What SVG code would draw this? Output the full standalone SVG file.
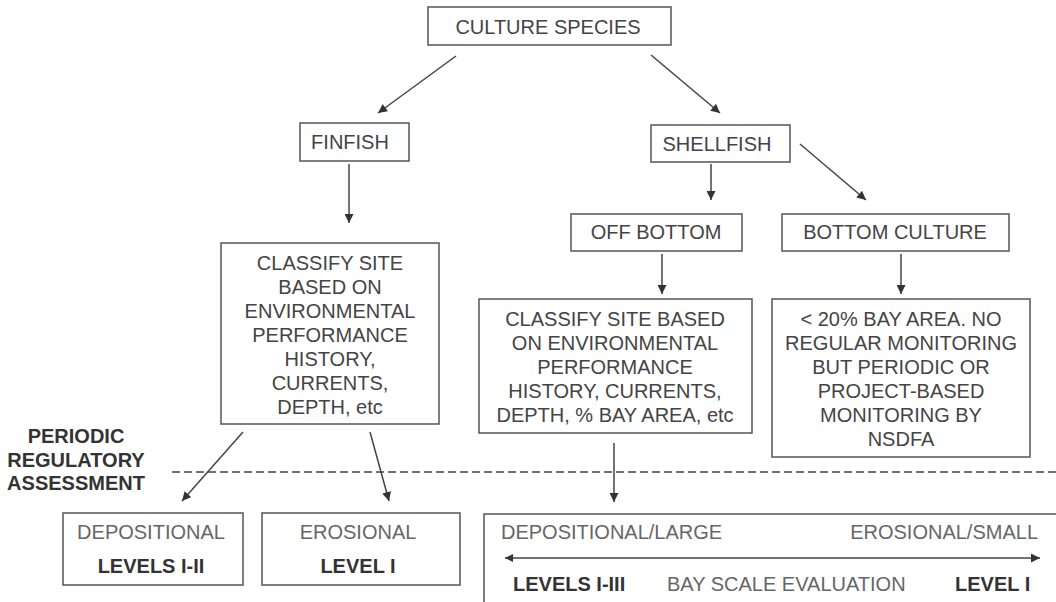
<svg xmlns="http://www.w3.org/2000/svg" width="1056" height="602" viewBox="0 0 1056 602">
<style>
.box{fill:#fff;stroke:#555;stroke-width:1.5}
.t{font-family:"Liberation Sans",Arial,sans-serif;font-size:20px;fill:#444;text-anchor:middle}
.lt{font-family:"Liberation Sans",Arial,sans-serif;font-size:20px;fill:#666}
.b{font-family:"Liberation Sans",Arial,sans-serif;font-size:20px;font-weight:bold;fill:#333}
.c{stroke:#444;stroke-width:1.5;fill:none}
</style>
<defs>
<marker id="ah" viewBox="0 0 10 10" refX="10" refY="5" markerWidth="10" markerHeight="9" markerUnits="userSpaceOnUse" orient="auto">
<path d="M0,0 L10,5 L0,10 z" fill="#333"/>
</marker>
<marker id="ahs" viewBox="0 0 10 10" refX="0" refY="5" markerWidth="10" markerHeight="8" markerUnits="userSpaceOnUse" orient="auto">
<path d="M10,0 L0,5 L10,10 z" fill="#333"/>
</marker>
</defs>
<rect width="1056" height="602" fill="#fff"/>

<g id="connectors">
<line class="c" x1="456" y1="56" x2="378" y2="113" marker-end="url(#ah)"/>
<line class="c" x1="651" y1="55" x2="720" y2="113" marker-end="url(#ah)"/>
<line class="c" x1="349" y1="164" x2="349" y2="223" marker-end="url(#ah)"/>
<line class="c" x1="711" y1="164" x2="711" y2="200" marker-end="url(#ah)"/>
<line class="c" x1="800" y1="144" x2="866" y2="200" marker-end="url(#ah)"/>
<line class="c" x1="662" y1="254" x2="662" y2="294" marker-end="url(#ah)"/>
<line class="c" x1="901" y1="254" x2="901" y2="294" marker-end="url(#ah)"/>
<line class="c" x1="243" y1="432" x2="182" y2="501" marker-end="url(#ah)"/>
<line class="c" x1="370" y1="432" x2="389" y2="501" marker-end="url(#ah)"/>
<line class="c" x1="614" y1="443" x2="614" y2="502" marker-end="url(#ah)"/>
</g>

<g id="divider">
<line x1="172" y1="472" x2="1056" y2="472" stroke="#444" stroke-width="1.5" stroke-dasharray="8,4"/>
<text class="b" x="76" y="443" text-anchor="middle">PERIODIC</text>
<text class="b" x="76" y="467" text-anchor="middle">REGULATORY</text>
<text class="b" x="76" y="490" text-anchor="middle">ASSESSMENT</text>
</g>

<g id="culture-species">
<rect class="box" x="428" y="7" width="243" height="38"/>
<text class="t" x="548" y="34">CULTURE SPECIES</text>
</g>

<g id="finfish">
<rect class="box" x="300" y="123" width="109" height="38"/>
<text class="t" x="350" y="149">FINFISH</text>
</g>

<g id="shellfish">
<rect class="box" x="651" y="125" width="139" height="37"/>
<text class="t" x="717" y="151">SHELLFISH</text>
</g>

<g id="off-bottom">
<rect class="box" x="571" y="214" width="171" height="37"/>
<text class="t" x="656" y="239">OFF BOTTOM</text>
</g>

<g id="bottom-culture">
<rect class="box" x="782" y="214" width="227" height="37"/>
<text class="t" x="895" y="239">BOTTOM CULTURE</text>
</g>

<g id="finfish-classify">
<rect class="box" x="221" y="243" width="218" height="181"/>
<text class="t" x="330" y="270">CLASSIFY SITE</text>
<text class="t" x="330" y="294">BASED ON</text>
<text class="t" x="330" y="318">ENVIRONMENTAL</text>
<text class="t" x="330" y="342">PERFORMANCE</text>
<text class="t" x="330" y="366">HISTORY,</text>
<text class="t" x="330" y="390">CURRENTS,</text>
<text class="t" x="330" y="414">DEPTH, etc</text>
</g>

<g id="offbottom-classify">
<rect class="box" x="479" y="299" width="273" height="134"/>
<text class="t" x="615" y="326">CLASSIFY SITE BASED</text>
<text class="t" x="615" y="350">ON ENVIRONMENTAL</text>
<text class="t" x="615" y="374">PERFORMANCE</text>
<text class="t" x="615" y="398">HISTORY, CURRENTS,</text>
<text class="t" x="615" y="422">DEPTH, % BAY AREA, etc</text>
</g>

<g id="bottom-culture-note">
<rect class="box" x="772" y="299" width="258" height="158"/>
<text class="t" x="901" y="326">&lt; 20% BAY AREA. NO</text>
<text class="t" x="901" y="350">REGULAR MONITORING</text>
<text class="t" x="901" y="374">BUT PERIODIC OR</text>
<text class="t" x="901" y="398">PROJECT-BASED</text>
<text class="t" x="901" y="422">MONITORING BY</text>
<text class="t" x="901" y="446">NSDFA</text>
</g>

<g id="depositional">
<rect class="box" x="63" y="513" width="180" height="72"/>
<text class="lt" x="151" y="539" text-anchor="middle">DEPOSITIONAL</text>
<text class="b" x="151" y="573" text-anchor="middle">LEVELS I-II</text>
</g>

<g id="erosional">
<rect class="box" x="262" y="513" width="198" height="72"/>
<text class="lt" x="358" y="539" text-anchor="middle">EROSIONAL</text>
<text class="b" x="358" y="573" text-anchor="middle">LEVEL I</text>
</g>

<g id="bay-scale">
<rect class="box" x="484" y="514" width="600" height="120"/>
<text class="lt" x="501" y="539">DEPOSITIONAL/LARGE</text>
<text class="lt" x="1038" y="539" text-anchor="end">EROSIONAL/SMALL</text>
<line class="c" x1="505" y1="558" x2="1040" y2="558" marker-start="url(#ahs)" marker-end="url(#ah)"/>
<text class="b" x="513" y="591">LEVELS I-III</text>
<text class="lt" x="667" y="591">BAY SCALE EVALUATION</text>
<text class="b" x="955" y="591">LEVEL I</text>
</g>
</svg>
